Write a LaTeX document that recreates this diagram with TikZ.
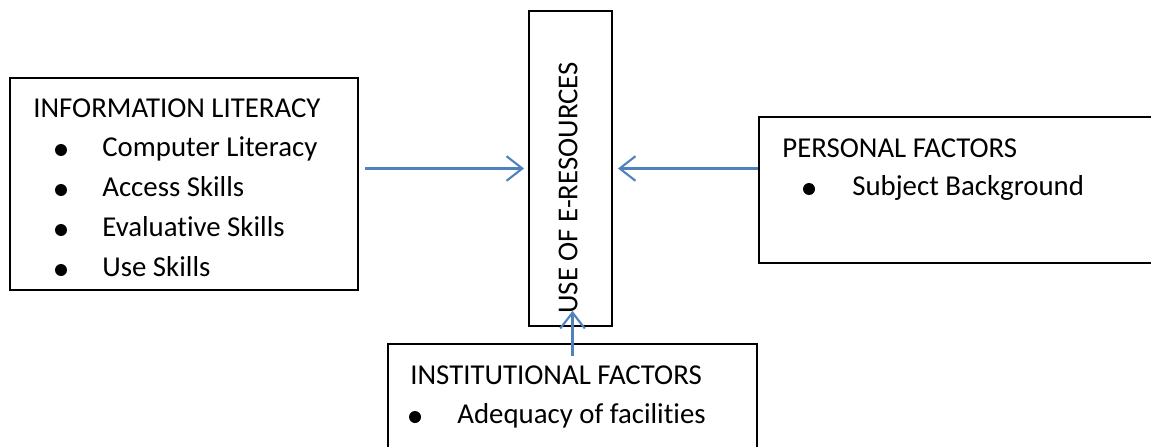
\documentclass[tikz,border=0pt]{standalone}
\usepackage{fontspec}
\setmainfont[Ligatures=NoCommon]{Carlito}
\usetikzlibrary{arrows.meta}
\definecolor{ab}{RGB}{79,129,189}
\definecolor{bk}{RGB}{0,0,0}

\begin{document}
\begin{tikzpicture}[x=0.02cm, y=-0.02cm, font=\fontsize{16.4}{19}\selectfont,
    box/.style={draw=bk, line width=1.1pt, inner sep=0pt},
    txt/.style={anchor=base west, inner sep=0pt},
    flow/.style={-{Straight Barb[length=9pt,width=14pt,line width=1.2pt]}, ab, line width=1.2pt}]

% ── page frame (pixel grid of the reference) ──
\useasboundingbox (0,0) rectangle (1151,446);
\clip (0,0) rectangle (1151,446);

% ════════════════════════════════════════════════
%  BOXES
% ════════════════════════════════════════════════
\node[box, minimum width=6.96cm, minimum height=4.24cm] (lit) at (184,184) {};
\node[box, minimum width=1.66cm, minimum height=6.30cm] (use) at (570.5,168.5) {};
\node[box, minimum width=8.02cm, minimum height=2.92cm] (pers) at (959.5,190) {};
\node[box, minimum width=7.38cm, minimum height=2.52cm] (inst) at (572.5,407) {};

% centre label (reads bottom to top)
\node[rotate=90, anchor=west, inner sep=0pt] (uset) at (568,314) {USE OF E-RESOURCES};

% ── information literacy ──
\node[txt] (litt) at (33,117) {INFORMATION LITERACY};
\foreach \t [count=\i] in {Computer Literacy, Access Skills, Evaluative Skills, Use Skills}{
    \fill (61,{116+40*\i-6}) circle(0.12cm);
    \node[txt] (lit\i) at (102,{116+40*\i}) {\t};
}

% ── personal factors ──
\node[txt] (perst) at (782,157) {PERSONAL FACTORS};
\fill (809,189) circle(0.12cm);
\node[txt] (pers1) at (852,195) {Subject Background};

% ── institutional factors ──
\node[txt] (instt) at (410,384) {INSTITUTIONAL FACTORS};
\fill (415,417) circle(0.12cm);
\node[txt] (inst1) at (457,423) {Adequacy of facilities};

% ════════════════════════════════════════════════
%  ARROWS
% ════════════════════════════════════════════════
\draw[flow, shorten <=0.12cm, shorten >=0.08cm] (lit.east |- use.west) -- (use.west);
\draw[flow, shorten >=0.10cm] (pers.west |- use.east) -- (use.east);
\draw[flow] ([yshift=-0.26cm]inst.north) -- ([yshift=0.32cm]inst.north |- use.south);

\end{tikzpicture}
\end{document}
